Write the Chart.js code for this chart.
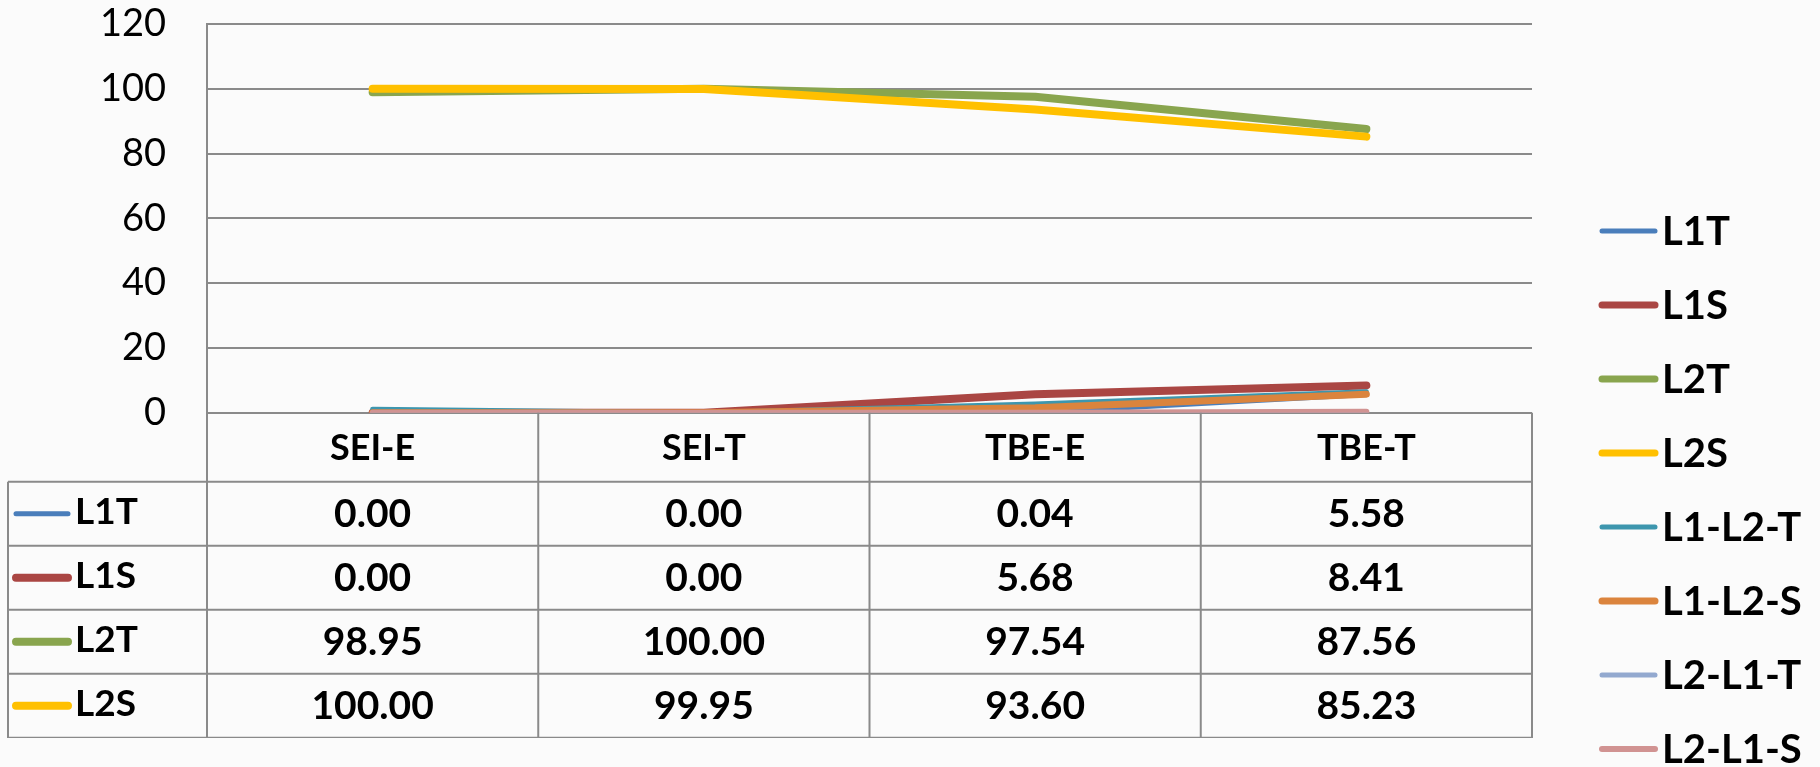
<!DOCTYPE html>
<html>
<head>
<meta charset="utf-8">
<title>Line chart with data table</title>
<script src="https://cdn.jsdelivr.net/npm/chart.js@4.4.0/dist/chart.umd.min.js"></script>
<style>
  html, body { margin: 0; padding: 0; background: #fbfbfb; }
  #wrap { width: 1820px; height: 767px; }
</style>
</head>
<body>
<div id="wrap"><canvas id="lineChart" width="1820" height="767"></canvas></div>
<script>
// categories and values (table rows 1-4 are printed, the others)
const categories = ["SEI-E", "SEI-T", "TBE-E", "TBE-T"];
const seriesNames = ["L1T", "L1S", "L2T", "L2S", "L1-L2-T", "L1-L2-S", "L2-L1-T", "L2-L1-S"];
const L1T = [0.00, 0.00, 0.04, 5.58];
const L1S = [0.00, 0.00, 5.68, 8.41];
const L2T = [98.95, 100.00, 97.54, 87.56];
const L2S = [100.00, 99.95, 93.60, 85.23];
const L1_L2_T = [1.1, 0.0, 2.7, 6.5];
const L1_L2_S = [0.0, 0.0, 1.5, 5.7];
const L2_L1_T = [0.0, 0.0, 0.0, 0.0];
const L2_L1_S = [0.0, 0.0, 0.0, 0.3];
const yMin = 0, yMax = 120, yStep = 20;

const seriesValues = [L1T, L1S, L2T, L2S, L1_L2_T, L1_L2_S, L2_L1_T, L2_L1_S];
const colors = ["#4a7ebb", "#aa4643", "#89a54e", "#ffc000", "#3d96ae", "#db843d", "#93a9cf", "#d19392"];
const widths = [5, 8, 8, 8, 5, 7, 5, 6];
const gridColor = "#8a8a8a";

const datasets = seriesNames.map((name, i) => ({
  label: name,
  data: seriesValues[i],
  borderColor: colors[i],
  backgroundColor: colors[i],
  borderWidth: widths[i],
  borderCapStyle: "round",
  borderJoinStyle: "round",
  pointRadius: 0,
  tension: 0,
  fill: false,
  order: seriesNames.length - i   // later series on top, like Excel
}));

function hline(ctx, x1, x2, y) {
  ctx.beginPath(); ctx.moveTo(x1, y); ctx.lineTo(x2, y); ctx.stroke();
}
function vline(ctx, x, y1, y2) {
  ctx.beginPath(); ctx.moveTo(x, y1); ctx.lineTo(x, y2); ctx.stroke();
}

// background, data table under the plot and legend on the right
const tablePlugin = {
  id: "dataTable",
  beforeDraw(chart) {
    const ctx = chart.ctx;
    ctx.save();
    ctx.fillStyle = "#fbfbfb";
    ctx.fillRect(0, 0, chart.width, chart.height);
    ctx.restore();
  },
  afterDraw(chart) {
    const ctx = chart.ctx;
    const a = chart.chartArea;
    const x = chart.scales.x;
    const headerH = 69, rowH = 64, tableLeft = 8, clipBottom = 738;

    const edges = [a.left];
    for (let i = 1; i < categories.length; i++) {
      edges.push((x.getPixelForValue(i - 1) + x.getPixelForValue(i)) / 2);
    }
    edges.push(a.right);

    ctx.save();
    ctx.beginPath();
    ctx.rect(0, 0, chart.width, clipBottom);
    ctx.clip();

    ctx.strokeStyle = gridColor;
    ctx.lineWidth = 2;
    edges.forEach(ex => vline(ctx, ex, a.bottom, clipBottom + 5));
    vline(ctx, tableLeft, a.bottom + headerH, clipBottom + 5);
    for (let r = 0; r < seriesNames.length; r++) {
      hline(ctx, tableLeft, a.right, a.bottom + headerH + r * rowH);
    }

    ctx.fillStyle = "#000";
    ctx.textAlign = "center";
    ctx.textBaseline = "middle";
    ctx.font = "bold 36px Lato";
    categories.forEach((c, i) => {
      ctx.fillText(c, x.getPixelForValue(i), a.bottom + headerH / 2 + 1);
    });

    seriesNames.forEach((name, r) => {
      const cy = a.bottom + headerH + r * rowH + rowH / 2;
      ctx.strokeStyle = colors[r];
      ctx.lineWidth = widths[r];
      ctx.lineCap = "round";
      hline(ctx, 16, 68, cy);
      ctx.fillStyle = "#000";
      ctx.textAlign = "left";
      ctx.font = "bold 37px Lato";
      ctx.fillText(name, 75, cy - 2);
      ctx.textAlign = "center";
      ctx.font = "bold 39px Lato";
      seriesValues[r].forEach((v, i) => {
        ctx.fillText(v.toFixed(2), x.getPixelForValue(i), cy + 1);
      });
    });
    ctx.restore();

    // legend
    ctx.save();
    ctx.textAlign = "left";
    ctx.textBaseline = "middle";
    ctx.font = "bold 40px Lato";
    seriesNames.forEach((name, i) => {
      const ly = 231 + i * 74;
      ctx.strokeStyle = colors[i];
      ctx.lineWidth = Math.min(widths[i], 7);
      ctx.lineCap = "round";
      hline(ctx, 1602, 1655, ly);
      ctx.fillStyle = "#000";
      ctx.fillText(name, 1662, ly + 1);
    });
    ctx.restore();
  }
};

const ctx = document.getElementById("lineChart").getContext("2d");
new Chart(ctx, {
  type: "line",
  data: { labels: categories, datasets: datasets },
  plugins: [tablePlugin],
  options: {
    responsive: false,
    animation: false,
    layout: { padding: { top: 24, right: 1820 - 1532, bottom: 767 - 412.7, left: 0 } },
    plugins: {
      legend: { display: false },
      tooltip: { enabled: false }
    },
    scales: {
      x: { type: "category", offset: true, display: false },
      y: {
        min: yMin,
        max: yMax,
        ticks: { stepSize: yStep, padding: 41, color: "#000", font: { family: "Lato", size: 38 } },
        grid: { color: gridColor, lineWidth: 2, drawTicks: false },
        border: { color: gridColor, width: 2 },
        afterFit(scale) {
          scale.width = 207;
          scale.paddingTop = 0;
          scale.paddingBottom = 0;
        }
      }
    }
  }
});
</script>
</body>
</html>
